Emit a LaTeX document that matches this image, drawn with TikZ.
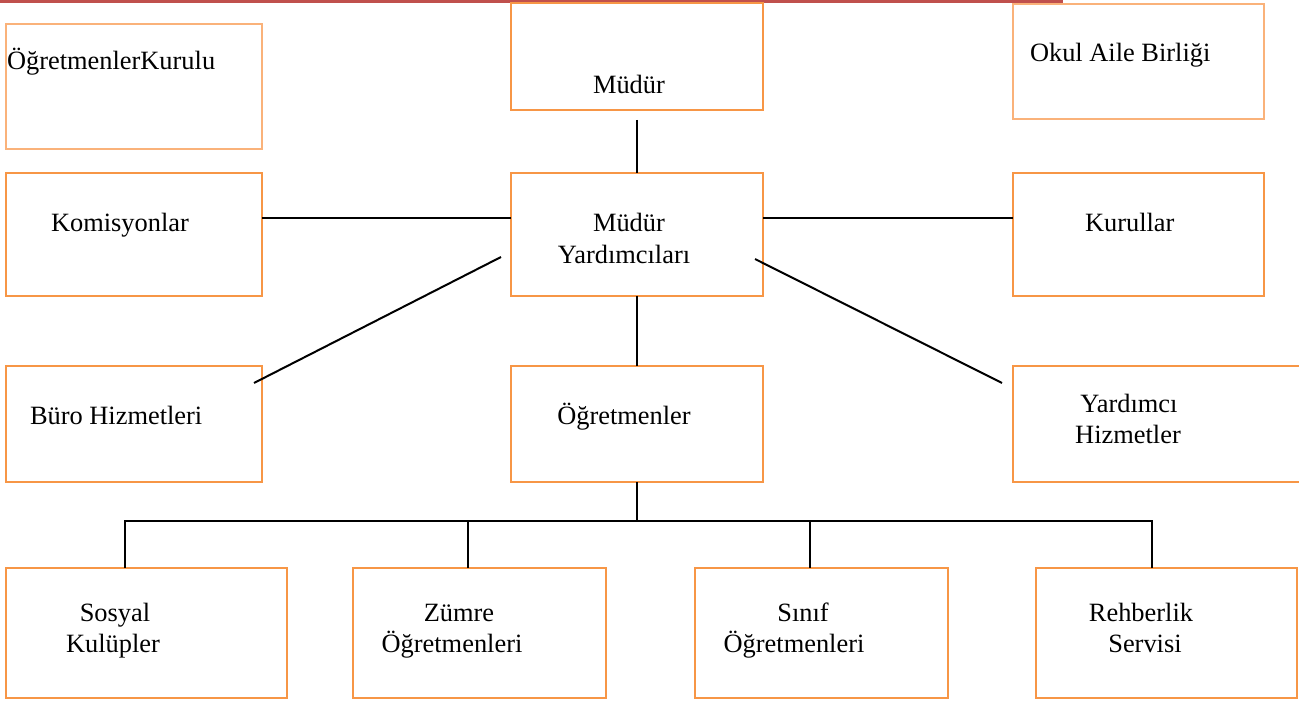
\documentclass[tikz,border=0pt]{standalone}
\usepackage{fontspec}
\setmainfont{Liberation Serif}
\definecolor{boxor}{HTML}{F79646}
\definecolor{boxlt}{HTML}{FAB27A}
\definecolor{topred}{HTML}{C0504D}
\tikzset{
  box/.style={draw=boxor, line width=1.3pt, inner sep=0pt, outer sep=0pt, anchor=north west},
  boxlight/.style={box, draw=boxlt},
  boxthick/.style={box, line width=2.2pt},
  txt/.style={inner sep=0pt, outer sep=0pt, text=black, font=\fontsize{26.4}{32}\selectfont},
  conn/.style={draw=black, line width=2pt}
}
\begin{document}
\begin{tikzpicture}[x=1pt,y=-1pt]
\useasboundingbox (0,0) rectangle (1299,703);
\fill[white] (0,0) rectangle (1299,703);
% top rule
\fill[topred] (0,0) rectangle (1063,3.5);
% boxes
\node[boxlight, minimum width=256pt, minimum height=125pt] (ok)    at (6,24) {};
\node[box,      minimum width=252pt, minimum height=107pt] (mudur) at (511,3) {};
\node[boxlight, minimum width=251pt, minimum height=115pt] (oab)   at (1013,4) {};
\node[box,      minimum width=256pt, minimum height=123pt] (kom)   at (6,173) {};
\node[boxthick, minimum width=252pt, minimum height=123pt] (my)    at (511,173) {};
\node[box,      minimum width=251pt, minimum height=123pt] (kur)   at (1013,173) {};
\node[boxthick, minimum width=256pt, minimum height=116pt] (buro)  at (6,366) {};
\node[box,      minimum width=252pt, minimum height=116pt] (ogr)   at (511,366) {};
\node[box,      minimum width=300pt, minimum height=116pt] (yh)    at (1013,366) {};
\node[box,      minimum width=281pt, minimum height=130pt] (sos)   at (6,568) {};
\node[box,      minimum width=253pt, minimum height=130pt] (zum)   at (353,568) {};
\node[box,      minimum width=253pt, minimum height=130pt] (sin)   at (695,568) {};
\node[box,      minimum width=261pt, minimum height=130pt] (reh)   at (1036,568) {};
% texts
\node[txt, anchor=base west] (tok)  at (7,70)    {ÖğretmenlerKurulu};
\node[txt, anchor=base]      (tmu)  at (629,94)  {Müdür};
\node[txt, anchor=base west] (toab) at (1030,62) {Okul Aile Birliği};
\node[txt, anchor=base west] (tkom) at (51,232)  {Komisyonlar};
\node[txt, anchor=base]      (tmy1) at (629,232) {Müdür};
\node[txt, anchor=base]      (tmy2) at (624,264) {Yardımcıları};
\node[txt, anchor=base west] (tkur) at (1085,232) {Kurullar};
\node[txt, anchor=base west] (tbur) at (30,424)  {Büro Hizmetleri};
\node[txt, anchor=base]      (togr) at (624,424) {Öğretmenler};
\node[txt, anchor=base]      (tyh1) at (1129,413) {Yardımcı};
\node[txt, anchor=base]      (tyh2) at (1128,443) {Hizmetler};
\node[txt, anchor=base]      (tso1) at (115,621) {Sosyal};
\node[txt, anchor=base]      (tso2) at (113,652) {Kulüpler};
\node[txt, anchor=base]      (tzu1) at (459,621) {Zümre};
\node[txt, anchor=base]      (tzu2) at (452,652) {Öğretmenleri};
\node[txt, anchor=base]      (tsi1) at (803,621) {Sınıf};
\node[txt, anchor=base]      (tsi2) at (794,652) {Öğretmenleri};
\node[txt, anchor=base]      (tre1) at (1141,621) {Rehberlik};
\node[txt, anchor=base]      (tre2) at (1145,652) {Servisi};
% connectors
\draw[conn] ([yshift=-10pt]mudur.south) -- (my.north);
\draw[conn] ([yshift=16.5pt]kom.east) -- ([yshift=16.5pt]my.west);
\draw[conn] ([yshift=16.5pt]my.east) -- ([yshift=16.5pt]kur.west);
\draw[conn] (my.south) -- (ogr.north);
\coordinate (dl1) at (501,257);
\coordinate (dl2) at (254,383);
\coordinate (dr1) at (755,259);
\coordinate (dr2) at (1002,383);
\draw[conn] (dl1) -- (dl2);
\draw[conn] (dr1) -- (dr2);
\coordinate (b1) at (125,521);
\coordinate (b2) at (468,521);
\coordinate (b3) at (810,521);
\coordinate (b4) at (1152,521);
\draw[conn] (ogr.south) -- (ogr.south |- b1);
\draw[conn, line cap=rect] (b1) -- (b4);
\draw[conn] (b1) -- (b1 |- sos.north);
\draw[conn] (b2) -- (b2 |- zum.north);
\draw[conn] (b3) -- (b3 |- sin.north);
\draw[conn] (b4) -- (b4 |- reh.north);
\end{tikzpicture}
\end{document}
